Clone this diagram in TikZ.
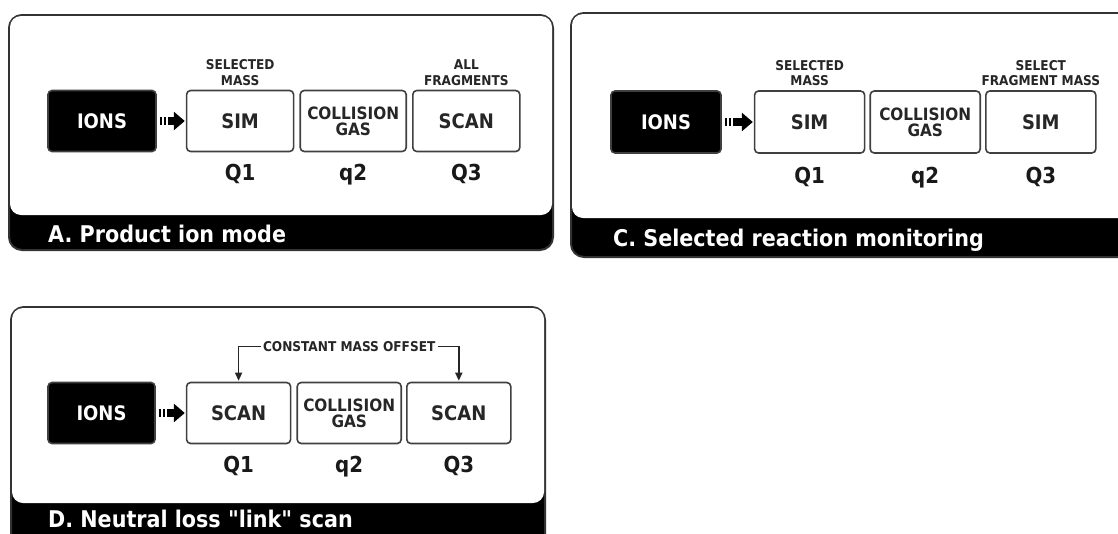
\documentclass[tikz,border=0pt]{standalone}
\usepackage{fontspec}
\setmainfont{DejaVu Sans Condensed}[Ligatures=TeXOff,BoldFont={DejaVu Sans Condensed Bold}]
\usetikzlibrary{positioning,arrows.meta}

\begin{document}
\begin{tikzpicture}[x=1pt,y=-1pt,
  frame/.style={draw=black!80,line width=2pt,fill=black,rounded corners=13pt},
  inner/.style={fill=white,rounded corners=11pt},
  quad/.style={draw=black!75,line width=1.6pt,rounded corners=4pt,minimum width=#1,
    minimum height=61pt,inner sep=0pt,text=black!85,font=\fontsize{20}{20}\selectfont\bfseries},
  quad/.default=107pt,
  ionbox/.style={quad=#1,fill=black,text=white},
  ionbox/.default=108pt,
  cellbox/.style={quad=#1,align=center,font=\fontsize{17}{16}\selectfont\bfseries},
  cellbox/.default=106pt,
  modenote/.style={align=center,inner sep=0pt,text=black!85,font=\fontsize{13.5}{15.5}\selectfont\bfseries},
  qlabel/.style={inner sep=0pt,text=black!90,font=\fontsize{22}{22}\selectfont\bfseries},
  bandtitle/.style={anchor=west,inner sep=0pt,text=white,font=\fontsize{23}{23}\selectfont\bfseries},
  feed/.style={line width=8pt,dash pattern=on 2pt off 2pt on 2pt off 2pt on 40pt,
    shorten <=3pt,shorten >=1pt,-{Triangle[length=11pt,width=18pt]}},
  link/.style={draw=black!85,line width=1.5pt,shorten >=1pt,-{Triangle[length=8pt,width=7pt]}}]
\useasboundingbox (0,0) rectangle (1118,533);
\clip (0,0) rectangle (1118,533);

% A: product ion mode
\draw[frame] (9,15) rectangle (553,250);
\fill[inner] (10,16) rectangle (552,215);
\node[ionbox] (ionsA) at (102,121) {IONS};
\node[quad, right=29pt of ionsA] (simA) {SIM};
\node[cellbox, right=5pt of simA] (gasA) {COLLISION\\GAS};
\node[quad, right=5pt of gasA] (scanA) {SCAN};
\draw[feed] (ionsA) -- (simA);
\node[modenote, above=4pt of simA] (selA) {SELECTED\\MASS};
\node[modenote, above=4pt of scanA] (allA) {ALL\\FRAGMENTS};
\node[qlabel, below=12pt of simA] (q1A) {Q1};
\node[qlabel, below=12pt of gasA] (q2A) {q2};
\node[qlabel, below=12pt of scanA] (q3A) {Q3};
\node[bandtitle] (titleA) at (48,234) {A. Product ion mode};

% C: selected reaction monitoring
\draw[frame] (571,13) rectangle (1140,257);
\fill[inner] (572,14) rectangle (1139,218);
\node[ionbox=110pt, minimum height=62pt] (ionsC) at (666,122) {IONS};
\node[quad=110pt, minimum height=62pt, right=32pt of ionsC] (simC) {SIM};
\node[cellbox=110pt, minimum height=62pt, right=4pt of simC] (gasC) {COLLISION\\GAS};
\node[quad=110pt, minimum height=62pt, right=4pt of gasC] (sim2C) {SIM};
\draw[feed] (ionsC) -- (simC);
\node[modenote, above=4pt of simC] (selC) {SELECTED\\MASS};
\node[modenote, above=4pt of sim2C] (fragC) {SELECT\\FRAGMENT MASS};
\node[qlabel, below=13pt of simC] (q1C) {Q1};
\node[qlabel, below=13pt of gasC] (q2C) {q2};
\node[qlabel, below=13pt of sim2C] (q3C) {Q3};
\node[bandtitle] (titleC) at (613,240) {C. Selected reaction monitoring};

% D: neutral loss scan
\draw[frame] (11,307) rectangle (545,550);
\fill[inner] (12,308) rectangle (544,503);
\node[ionbox=107pt] (ionsD) at (101.5,413) {IONS};
\node[quad=104pt, right=30pt of ionsD] (scanD) {SCAN};
\node[cellbox=104pt, right=5pt of scanD] (gasD) {COLLISION\\GAS};
\node[quad=104pt, right=4pt of gasD] (scan2D) {SCAN};
\draw[feed] (ionsD) -- (scanD);
\node[modenote, inner xsep=2pt, above=30pt of gasD] (offsetD) {CONSTANT MASS OFFSET};
\draw[link] (offsetD.west) -| (scanD.north);
\draw[link] (offsetD.east) -| (scan2D.north);
\node[qlabel, below=12pt of scanD] (q1D) {Q1};
\node[qlabel, below=12pt of gasD] (q2D) {q2};
\node[qlabel, below=12pt of scan2D] (q3D) {Q3};
\node[bandtitle] (titleD) at (48,519) {D. Neutral loss "link" scan};
\end{tikzpicture}
\end{document}
